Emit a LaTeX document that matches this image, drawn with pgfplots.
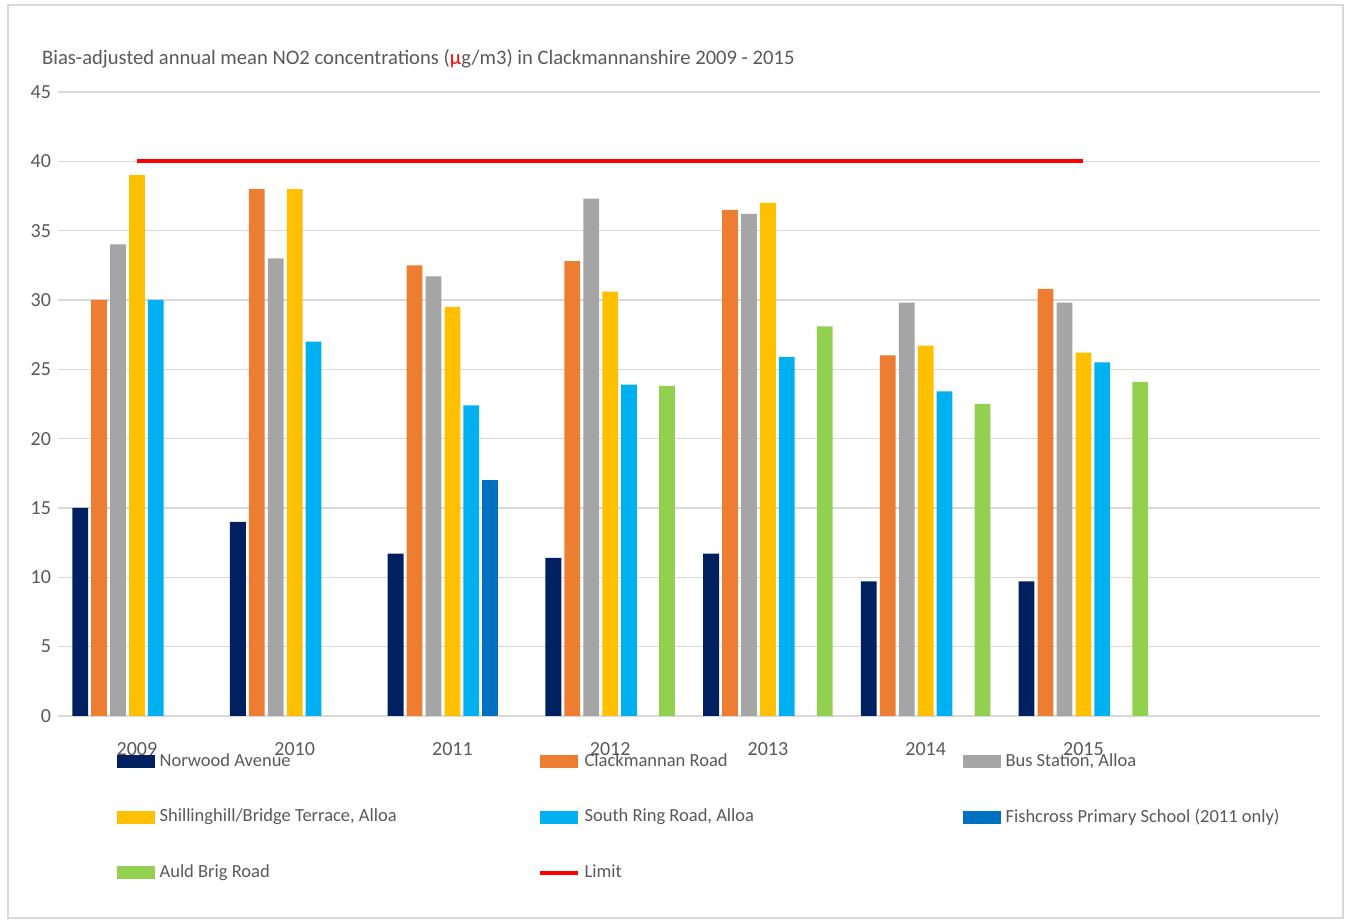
\documentclass[border=0pt]{standalone}
\usepackage{fontspec}
\setmainfont{Carlito}
\usepackage{pgfplots}
\pgfplotsset{compat=1.18}
\definecolor{norwood}{HTML}{002060}
\definecolor{clack}{HTML}{ED7D31}
\definecolor{bus}{HTML}{A5A5A5}
\definecolor{shill}{HTML}{FFC000}
\definecolor{southring}{HTML}{00B0F0}
\definecolor{fishcross}{HTML}{0070C0}
\definecolor{auld}{HTML}{92D050}
\definecolor{txt}{HTML}{595959}
\definecolor{gridc}{HTML}{D9D9D9}

\pgfplotsset{
  barleg/.style={legend image code/.code={\fill[##1,draw=none] (0pt,-3.25pt) rectangle (19pt,3.25pt);}},
  lineleg/.style={legend image code/.code={\draw[##1] (0pt,0pt) -- (19pt,0pt);}},
  bars/.style={ybar, bar width=0.1, draw=none, fill=#1, barleg},
}

\begin{document}
\begin{tikzpicture}[font=\fontsize{10}{12}\selectfont]
\begin{axis}[
  width=631pt, height=312pt, scale only axis,
  xmin=-0.5, xmax=7.5, ymin=0, ymax=45,
  ytick={0,5,...,45},
  xtick={0,...,6}, xticklabels={2009,2010,2011,2012,2013,2014,2015},
  axis x line*=bottom, axis y line*=left,
  y axis line style={draw=none},
  x axis line style={draw=gridc, line width=0.75pt, -},
  major tick length=0pt,
  ymajorgrids, grid style={gridc, line width=0.75pt},
  tick label style={text=txt},
  xticklabel style={yshift=-10pt},
  /pgf/number format/assume math mode=true,
  clip=false,
  legend columns=3,
  legend cell align=left,
  legend style={at={(rel axis cs:0.0413,-0.053)}, anchor=north west,
    draw=none, fill=none, text=txt, row sep=19.75pt,
    font=\fontsize{9.25}{11}\selectfont,
    nodes={inner sep=0pt},
    /tikz/every odd column/.append style={column sep=2.5pt},
    /tikz/every even column/.append style={column sep=0pt}},
]
\addplot[bars=norwood, bar shift=-0.36] coordinates {(0,15) (1,14) (2,11.7) (3,11.4) (4,11.7) (5,9.7) (6,9.7)};
\addlegendentry{\makebox[189pt][l]{Norwood Avenue}}
\addplot[bars=clack, bar shift=-0.24] coordinates {(0,30) (1,38) (2,32.5) (3,32.8) (4,36.5) (5,26) (6,30.8)};
\addlegendentry{\makebox[189pt][l]{Clackmannan Road}}
\addplot[bars=bus, bar shift=-0.12] coordinates {(0,34) (1,33) (2,31.7) (3,37.3) (4,36.2) (5,29.8) (6,29.8)};
\addlegendentry{Bus Station, Alloa}
\addplot[bars=shill, bar shift=0] coordinates {(0,39) (1,38) (2,29.5) (3,30.6) (4,37) (5,26.7) (6,26.2)};
\addlegendentry{\makebox[189pt][l]{Shillinghill/Bridge Terrace, Alloa}}
\addplot[bars=southring, bar shift=0.12] coordinates {(0,30) (1,27) (2,22.4) (3,23.9) (4,25.9) (5,23.4) (6,25.5)};
\addlegendentry{\makebox[189pt][l]{South Ring Road, Alloa}}
\addplot[bars=fishcross, bar shift=0.24] coordinates {(2,17)};
\addlegendentry{Fishcross Primary School (2011 only)}
\addplot[bars=auld, bar shift=0.36] coordinates {(3,23.8) (4,28.1) (5,22.5) (6,24.1)};
\addlegendentry{\makebox[189pt][l]{Auld Brig Road}}
\addplot[red, line width=2pt, sharp plot, no marks, lineleg] coordinates {(0,40) (6,40)};
\addlegendentry{Limit}

\node[anchor=west, text=txt, font=\fontsize{10.3}{12}\selectfont] at (rel axis cs:-0.0182,1.053)
  {Bias-adjusted annual mean NO2 concentrations (\textcolor{red}{µ}g/m3) in Clackmannanshire 2009 - 2015};
\draw[gridc, line width=1pt] (rel axis cs:-0.0396,-0.3237) rectangle (rel axis cs:1.0182,1.1394);
\path (rel axis cs:-0.0460,-0.3317) rectangle (rel axis cs:1.0222,1.1474);
\end{axis}
\end{tikzpicture}
\end{document}
